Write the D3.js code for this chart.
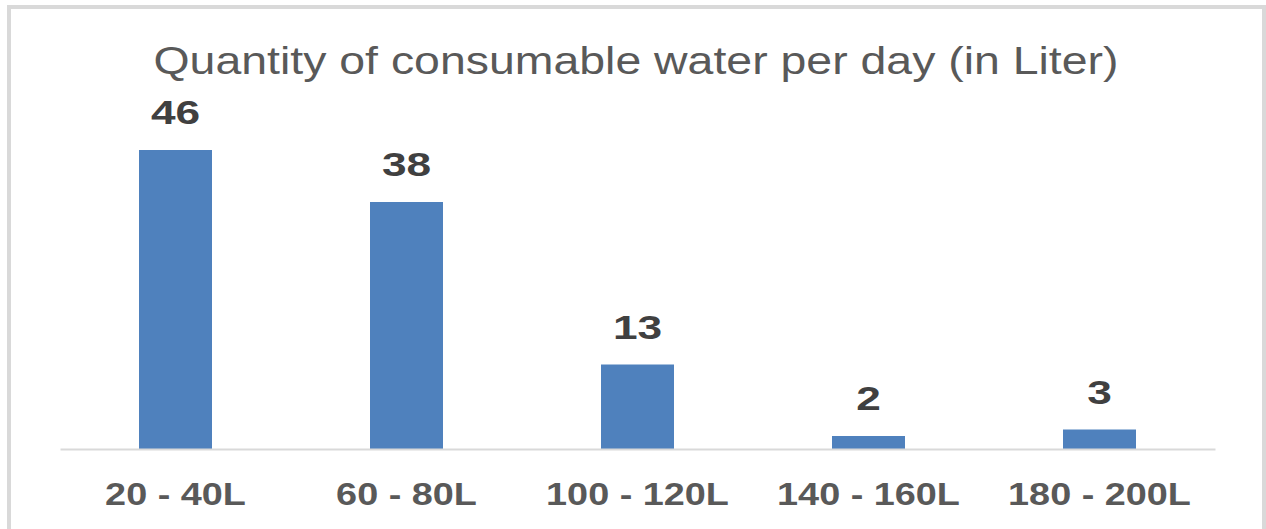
<!DOCTYPE html>
<html><head><meta charset="utf-8">
<script src="https://cdn.jsdelivr.net/npm/d3@7"></script>
<style>body{margin:0;background:#fff}svg{display:block}</style>
</head><body>
<svg id="c" width="1266" height="529"></svg>
<script>
(function(){
const categories = ["20 - 40L", "60 - 80L", "100 - 120L", "140 - 160L", "180 - 200L"];
const values = [46, 38, 13, 2, 3];
const yDomain = [0, 50];
const title = "Quantity of consumable water per day (in Liter)";

const svg = d3.select("#c");
const W = 1266, H = 529;
const plotLeft = 60, plotRight = 1215, base = 449, plotTop = 124;

svg.append("path").attr("d", `M9,${H} V7 H1264 V${H}`)
  .attr("fill", "none").attr("stroke", "#d9d9d9").attr("stroke-width", 4);

const x = d3.scaleBand().domain(categories).range([plotLeft, plotRight])
  .paddingInner(0.684).paddingOuter(0.342);
const y = d3.scaleLinear().domain(yDomain).range([base, plotTop]);

svg.append("text").attr("x", 636).attr("y", 74).attr("text-anchor", "middle")
  .attr("font-family", "Liberation Sans, Arial, sans-serif").attr("font-size", 38)
  .attr("fill", "#595959").attr("textLength", 965).attr("lengthAdjust", "spacingAndGlyphs")
  .text(title);

svg.selectAll("rect.bar").data(values).join("rect").attr("class", "bar")
  .attr("x", (d, i) => x(categories[i])).attr("width", x.bandwidth())
  .attr("y", d => y(d)).attr("height", d => y(0) - y(d))
  .attr("fill", "#4f81bd");

svg.selectAll("text.val").data(values).join("text").attr("class", "val")
  .attr("transform", (d, i) => `translate(${x(categories[i]) + x.bandwidth() / 2},${y(d) - 26}) scale(1.3,1)`)
  .attr("text-anchor", "middle")
  .attr("font-family", "Liberation Sans, Arial, sans-serif").attr("font-weight", "bold")
  .attr("font-size", 34).attr("fill", "#404040").text(d => d);

const xAxis = d3.axisBottom(x).tickSize(0).tickPadding(0);
const g = svg.append("g").attr("transform", `translate(0,${base})`).call(xAxis);
g.select(".domain").attr("stroke", "#d9d9d9").attr("stroke-width", 2);
g.selectAll(".tick text").attr("font-family", "Liberation Sans, Arial, sans-serif")
  .attr("font-weight", "bold").attr("font-size", 31).attr("fill", "#595959")
  .attr("y", 0).attr("dy", null)
  .attr("transform", "translate(0,56) scale(1.22,1)");
})();
</script>
</body></html>
